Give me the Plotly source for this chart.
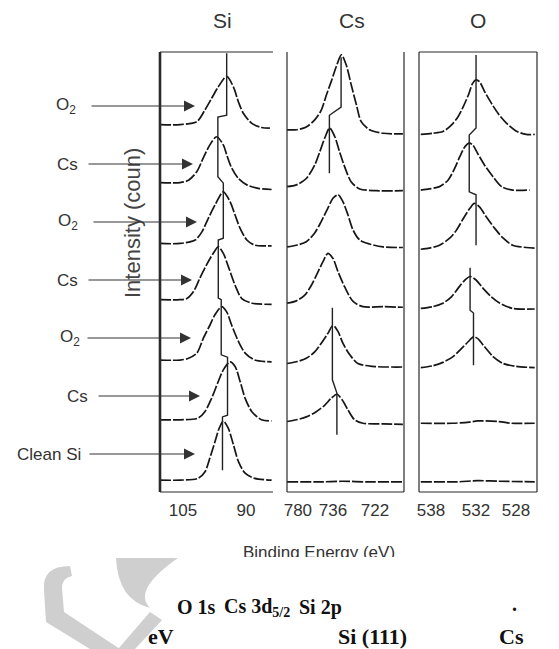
import plotly.graph_objects as go

W, H = 559, 649

# ------------------------------------------------------------------ data
# treatment steps, bottom (index 0) to top (index 6)
steps = ["Clean Si", "Cs", "O<sub>2</sub>", "Cs", "O<sub>2</sub>", "Cs", "O<sub>2</sub>"]

# Si 2p spectra (binding energy eV, intensity in units of one stack step)
si_E_0 = [110.5, 105.7, 101.4, 99.8, 98.6, 97.4, 96.4, 95.4, 94.2, 93.0, 91.8, 90.2, 87.9, 83.9]
si_I_0 = [0.05, 0.05, 0.08, 0.19, 0.43, 0.71, 0.94, 1.07, 0.94, 0.66, 0.37, 0.17, 0.08, 0.05]
si_E_1 = [110.5, 105.7, 101.4, 99.8, 98.2, 96.6, 95.4, 93.8, 92.6, 91.4, 90.2, 88.6, 86.3, 83.9]
si_I_1 = [0.09, 0.09, 0.12, 0.23, 0.46, 0.75, 0.95, 1.09, 1.01, 0.75, 0.46, 0.23, 0.09, 0.07]
si_E_2 = [110.5, 105.7, 103.7, 101.7, 100.2, 98.6, 97.4, 95.8, 94.6, 93.4, 91.8, 90.2, 87.9, 83.9]
si_I_2 = [0.12, 0.12, 0.15, 0.24, 0.49, 0.72, 0.90, 1.04, 0.95, 0.72, 0.44, 0.24, 0.12, 0.09]
si_E_3 = [110.5, 105.7, 104.1, 102.5, 101.0, 99.4, 97.8, 96.6, 95.4, 94.2, 92.6, 91.0, 88.6, 83.9]
si_I_3 = [0.16, 0.16, 0.18, 0.30, 0.53, 0.76, 0.96, 1.07, 0.96, 0.73, 0.41, 0.18, 0.10, 0.08]
si_E_4 = [110.5, 105.7, 102.1, 100.5, 99.0, 97.4, 95.4, 93.8, 92.6, 91.4, 89.8, 87.9, 83.9]
si_I_4 = [0.13, 0.13, 0.19, 0.33, 0.56, 0.79, 1.02, 0.85, 0.62, 0.39, 0.19, 0.10, 0.09]
si_E_5 = [110.5, 105.7, 103.7, 101.7, 100.2, 98.6, 97.0, 95.4, 94.6, 93.4, 91.8, 89.8, 87.1, 83.9]
si_I_5 = [0.18, 0.18, 0.22, 0.37, 0.60, 0.83, 0.97, 0.83, 0.66, 0.43, 0.25, 0.14, 0.08, 0.06]
si_E_6 = [110.5, 105.7, 101.7, 99.8, 98.2, 96.6, 94.6, 93.0, 91.8, 90.6, 88.6, 86.3, 84.3]
si_I_6 = [0.18, 0.18, 0.23, 0.43, 0.63, 0.83, 1.01, 0.83, 0.57, 0.37, 0.20, 0.13, 0.12]

# Cs 3d5/2 spectra
cs_E_0 = [751.3, 740.0, 733.0, 725.0, 712.7]
cs_I_0 = [0.02, 0.02, 0.03, 0.02, 0.02]
cs_E_1 = [751.3, 748.2, 744.9, 741.6, 738.8, 736.6, 734.7, 732.9, 731.0, 728.8, 726.0, 719.3, 712.7]
cs_I_1 = [0.06, 0.09, 0.14, 0.23, 0.34, 0.46, 0.53, 0.43, 0.26, 0.09, 0.03, 0.02, 0.01]
cs_E_2 = [751.3, 748.2, 744.9, 742.1, 739.9, 737.7, 736.0, 734.3, 732.7, 730.4, 727.7, 722.7, 712.7]
cs_I_2 = [0.06, 0.09, 0.15, 0.26, 0.41, 0.58, 0.72, 0.61, 0.41, 0.21, 0.06, 0.01, 0.0]
cs_E_3 = [751.3, 748.2, 745.4, 743.2, 741.0, 739.3, 737.7, 736.0, 734.3, 732.1, 729.3, 726.0, 719.3, 712.7]
cs_I_3 = [0.10, 0.14, 0.24, 0.41, 0.64, 0.82, 0.96, 0.87, 0.64, 0.38, 0.13, 0.04, 0.04, 0.03]
cs_E_4 = [751.3, 748.2, 744.9, 742.1, 739.9, 737.7, 736.0, 734.3, 732.7, 731.0, 729.3, 727.1, 723.8, 719.3, 712.7]
cs_I_4 = [0.07, 0.10, 0.16, 0.31, 0.51, 0.74, 0.91, 0.97, 0.85, 0.62, 0.36, 0.19, 0.12, 0.07, 0.06]
cs_E_5 = [751.3, 748.2, 744.9, 742.1, 740.4, 738.8, 737.1, 735.4, 733.8, 732.1, 729.9, 727.1, 721.6, 712.7]
cs_I_5 = [0.11, 0.14, 0.25, 0.48, 0.71, 0.94, 1.12, 0.97, 0.71, 0.45, 0.19, 0.07, 0.04, 0.04]
cs_E_6 = [751.3, 748.2, 744.9, 742.1, 739.9, 738.2, 736.6, 734.9, 733.2, 731.6, 729.9, 728.2, 726.6, 723.8, 719.3, 712.7]
cs_I_6 = [0.09, 0.09, 0.14, 0.26, 0.43, 0.69, 0.92, 1.18, 1.38, 1.21, 0.86, 0.52, 0.23, 0.09, 0.03, 0.02]

# O 1s spectra
o_E_0 = [539.2, 535.0, 532.5, 530.0, 525.8]
o_I_0 = [0.02, 0.02, 0.04, 0.03, 0.02]
o_E_1 = [539.2, 535.5, 533.5, 532.5, 530.0, 528.5, 525.8]
o_I_1 = [0.03, 0.03, 0.05, 0.07, 0.06, 0.03, 0.03]
o_E_2 = [539.2, 537.8, 536.6, 535.4, 534.4, 533.6, 533.0, 532.5, 531.7, 530.7, 529.5, 528.0, 525.8]
o_I_2 = [-0.01, 0.02, 0.08, 0.18, 0.32, 0.44, 0.52, 0.49, 0.35, 0.18, 0.06, 0.01, -0.01]
o_E_3 = [539.2, 537.8, 536.6, 535.6, 534.8, 534.0, 533.4, 532.7, 531.9, 530.9, 529.9, 528.4, 525.8]
o_I_3 = [0.01, 0.04, 0.10, 0.21, 0.36, 0.50, 0.56, 0.50, 0.36, 0.21, 0.10, 0.01, 0.00]
o_E_4 = [539.2, 538.2, 537.0, 535.8, 535.0, 534.2, 533.4, 532.9, 532.3, 531.5, 530.5, 529.5, 528.4, 526.8, 525.8]
o_I_4 = [0.03, 0.05, 0.10, 0.22, 0.36, 0.56, 0.74, 0.82, 0.76, 0.59, 0.39, 0.22, 0.10, 0.06, 0.05]
o_E_5 = [539.2, 538.2, 537.0, 536.0, 535.2, 534.6, 534.0, 533.5, 533.1, 532.5, 531.7, 530.7, 529.7, 528.4, 526.4]
o_I_5 = [0.05, 0.07, 0.11, 0.22, 0.43, 0.63, 0.80, 0.86, 0.83, 0.68, 0.48, 0.28, 0.11, 0.05, 0.05]
o_E_6 = [539.2, 537.8, 536.6, 535.6, 534.8, 534.2, 533.6, 533.1, 532.7, 532.3, 531.7, 530.9, 530.1, 529.1, 528.0, 526.8, 525.8]
o_I_6 = [0.01, 0.03, 0.06, 0.17, 0.32, 0.49, 0.69, 0.89, 0.95, 0.92, 0.75, 0.55, 0.37, 0.20, 0.07, 0.01, 0.01]

# peak positions marked by the vertical guide lines (None = not marked)
si_peak_E = [95.6, 94.4, 95.9, 96.6, 95.4, 96.7, 94.6]
cs_peak_E = [None, 734.7, 736.2, None, None, 737.2, 733.3]
o_peak_E = [None, None, 533.0, 533.4, 532.7, 533.5, 532.7]

# axis tick labels
si_ticks = ["105", "90"]
cs_ticks = ["780", "736", "722"]
o_ticks = ["538", "532", "528"]
panel_titles = ["Si", "Cs", "O"]

# ------------------------------------------------------------------ helpers
def px(x):
    return x / W

def py(y):
    return 1 - y / H

INK = "#161616"
TXT = "#333333"
SANS = "Liberation Sans, Arial, sans-serif"
SERIF = "Liberation Serif, Times New Roman, serif"

fig = go.Figure()

panels = [
    ("x", [si_E_0, si_E_1, si_E_2, si_E_3, si_E_4, si_E_5, si_E_6],
          [si_I_0, si_I_1, si_I_2, si_I_3, si_I_4, si_I_5, si_I_6]),
    ("x2", [cs_E_0, cs_E_1, cs_E_2, cs_E_3, cs_E_4, cs_E_5, cs_E_6],
           [cs_I_0, cs_I_1, cs_I_2, cs_I_3, cs_I_4, cs_I_5, cs_I_6]),
    ("x3", [o_E_0, o_E_1, o_E_2, o_E_3, o_E_4, o_E_5, o_E_6],
           [o_I_0, o_I_1, o_I_2, o_I_3, o_I_4, o_I_5, o_I_6]),
]

for xa, Es, Is in panels:
    for i, (E, I) in enumerate(zip(Es, Is)):
        fig.add_trace(go.Scatter(
            x=E, y=[v + i for v in I], mode="lines", xaxis=xa, yaxis="y",
            line=dict(color=INK, width=1.7, dash="11px,2px", shape="spline", smoothing=0.8),
            hoverinfo="skip", showlegend=False))

# vertical guide lines through the peak maxima: (spectrum index, top, bottom) rel. to its offset
si_runs = [[(6, 1.41, 0.34), (5, 1.31, 0.28), (4, 1.17, 0.22), (3, 1.19, 0.19),
            (2, 1.16, 0.21), (1, 1.17, 0.17), (0, 1.14, 0.22)]]
cs_runs = [[(6, 1.34, 0.48), (5, 1.34, 0.34)], [(2, 1.02, -0.22), (1, 0.55, -0.17)]]
o_runs = [[(6, 1.38, 0.12), (5, 1.0, 0.02), (4, 0.97, 0.10)], [(3, 0.71, -0.02), (2, 0.93, 0.03)]]

for xa, runs, peaks in [("x", si_runs, si_peak_E), ("x2", cs_runs, cs_peak_E), ("x3", o_runs, o_peak_E)]:
    for run in runs:
        xs, ys = [], []
        for idx, top, bot in run:
            xs += [peaks[idx], peaks[idx]]
            ys += [idx + top, idx + bot]
        fig.add_trace(go.Scatter(x=xs, y=ys, mode="lines", xaxis=xa, yaxis="y",
                                 line=dict(color="#222", width=1.4),
                                 hoverinfo="skip", showlegend=False))

# clipped axis title "Binding Energy (eV)" (bottom of the glyphs cut off as in the scan)
fig.add_trace(go.Scatter(x=[319], y=[3.5], mode="text", text=["Binding Energy (eV)"],
                         textfont=dict(family=SANS, size=17, color=TXT),
                         xaxis="x4", yaxis="y4", cliponaxis=True,
                         hoverinfo="skip", showlegend=False))

axis_common = dict(showgrid=False, zeroline=False, showline=False, anchor="y",
                   ticks="outside", ticklen=3, tickcolor="rgba(0,0,0,0)",
                   tickfont=dict(family=SANS, size=17, color=TXT), fixedrange=True)

fig.update_layout(
    width=W, height=H, autosize=False,
    margin=dict(l=0, r=0, t=0, b=0),
    paper_bgcolor="white", plot_bgcolor="white",
    template="none",
    xaxis=dict(domain=[px(160), px(273)], range=[110.48, 83.57],
               tickvals=[105, 90], ticktext=si_ticks, **axis_common),
    xaxis2=dict(domain=[px(287), px(404)], range=[751.33, 712.33],
                tickvals=[747.7, 736, 722], ticktext=cs_ticks, **axis_common),
    xaxis3=dict(domain=[px(419), px(537)], range=[539.41, 525.53],
                tickvals=[538, 532.7, 528], ticktext=o_ticks, **axis_common),
    yaxis=dict(domain=[py(492), py(52)], range=[-0.155, 7.431], visible=False, anchor="x"),
    xaxis4=dict(domain=[0, 1], range=[0, W], visible=False, anchor="y4"),
    yaxis4=dict(domain=[py(557), py(535)], range=[0, 22], visible=False, anchor="x4"),
)

# panel frames
line_col = "#2a2a2a"
def seg(xref, x0, x1, y0, y1, w=1.2):
    return dict(type="line", xref=xref, yref="y domain", x0=x0, x1=x1, y0=y0, y1=y1,
                line=dict(color=line_col, width=w), layer="above")

shapes = [
    seg("x domain", 0, 0, 0, 1, 2.6), seg("x domain", 0, 1, 1, 1), seg("x domain", 0, 1, 0, 0),
    seg("x2 domain", 0, 0, 0, 1), seg("x2 domain", 1, 1, 0, 1), seg("x2 domain", 0, 1, 0, 0),
    seg("x3 domain", 0, 0, 0, 1), seg("x3 domain", 1, 1, 0, 1),
    seg("x3 domain", 0, 1, 1, 1), seg("x3 domain", 0, 1, 0, 0),
]

# watermark (light grey logo remnants)
wm = "#cfcfcf"
shapes += [
    dict(type="path", xref="paper", yref="paper", layer="below",
         path=" ".join([
             f"M {px(116)},{py(558)}",
             f"Q {px(118)},{py(600)} {px(150)},{py(608)}",
             f"Q {px(132)},{py(590)} {px(178)},{py(558)} Z"]),
         fillcolor=wm, line=dict(width=0)),
    dict(type="path", xref="paper", yref="paper", layer="below",
         path=" ".join([
             f"M {px(70)},{py(566)}",
             f"Q {px(42)},{py(566)} {px(44)},{py(590)}",
             f"L {px(46)},{py(622)}",
             f"L {px(90)},{py(649)}",
             f"L {px(120)},{py(649)}",
             f"L {px(64)},{py(612)}",
             f"L {px(62)},{py(588)}",
             f"Q {px(62)},{py(578)} {px(72)},{py(576)} Z"]),
         fillcolor=wm, line=dict(width=0)),
    dict(type="path", xref="paper", yref="paper", layer="below",
         path=" ".join([
             f"M {px(150)},{py(612)}", f"L {px(162)},{py(620)}",
             f"L {px(135)},{py(649)}", f"L {px(118)},{py(649)} Z"]),
         fillcolor=wm, line=dict(width=0)),
]
fig.update_layout(shapes=shapes)

ann = []
# panel titles
for t, xc in zip(panel_titles, [222, 352, 478]):
    ann.append(dict(text=t, x=px(xc), y=py(21), xref="paper", yref="paper",
                    xanchor="center", yanchor="middle",
                    showarrow=False, font=dict(family=SANS, size=21, color=TXT)))

# y-axis label
ann.append(dict(text="Intensity (coun)", x=px(132), y=py(223), xref="paper", yref="paper",
                xanchor="center", yanchor="middle",
                textangle=-90, showarrow=False, font=dict(family=SANS, size=22, color="#444")))

# step labels with arrows pointing at each Si spectrum
arrow_tip = [195, 200, 191, 192, 197, 193, 195]
arrow_tail = [88, 97, 86, 87, 92, 87, 90]
label_right = [83, 90, 82, 80, 80, 80, 78]
for i, lab in enumerate(steps):
    ann.append(dict(text="", x=px(arrow_tip[i]), y=i + 0.5, xref="paper", yref="y",
                    ax=arrow_tail[i] - arrow_tip[i], ay=0, axref="pixel", ayref="pixel",
                    showarrow=True, arrowhead=2, arrowsize=2.0, arrowwidth=1.1,
                    arrowcolor="#333"))
    ann.append(dict(text=lab, x=px(label_right[i]), y=i + 0.5, xref="paper", yref="y",
                    xanchor="right", yanchor="middle", showarrow=False,
                    font=dict(family=SANS, size=17, color=TXT)))

# caption remnants (bold serif)
cap1 = dict(family=SERIF, size=20, color="#111", weight="bold")
cap2 = dict(family=SERIF, size=22, color="#111", weight="bold")
for t, x, y, f in [("O 1s", 175, 607, cap1), ("Cs 3d<sub>5/2</sub>", 222, 607, cap1),
                   ("Si 2p", 297, 607, cap1), (".", 510, 604, cap1),
                   ("eV", 146, 636, cap2), ("Si (111)", 336, 636, cap2), ("Cs", 497, 636, cap2)]:
    ann.append(dict(text=t, x=px(x), y=py(y), xref="paper", yref="paper", xanchor="left",
                    yanchor="middle", showarrow=False, font=f))

fig.update_layout(annotations=ann)

fig.write_html("out.html", config={"displayModeBar": False, "staticPlot": True},
               post_script="document.body.style.margin='0';document.body.style.overflow='hidden';")
